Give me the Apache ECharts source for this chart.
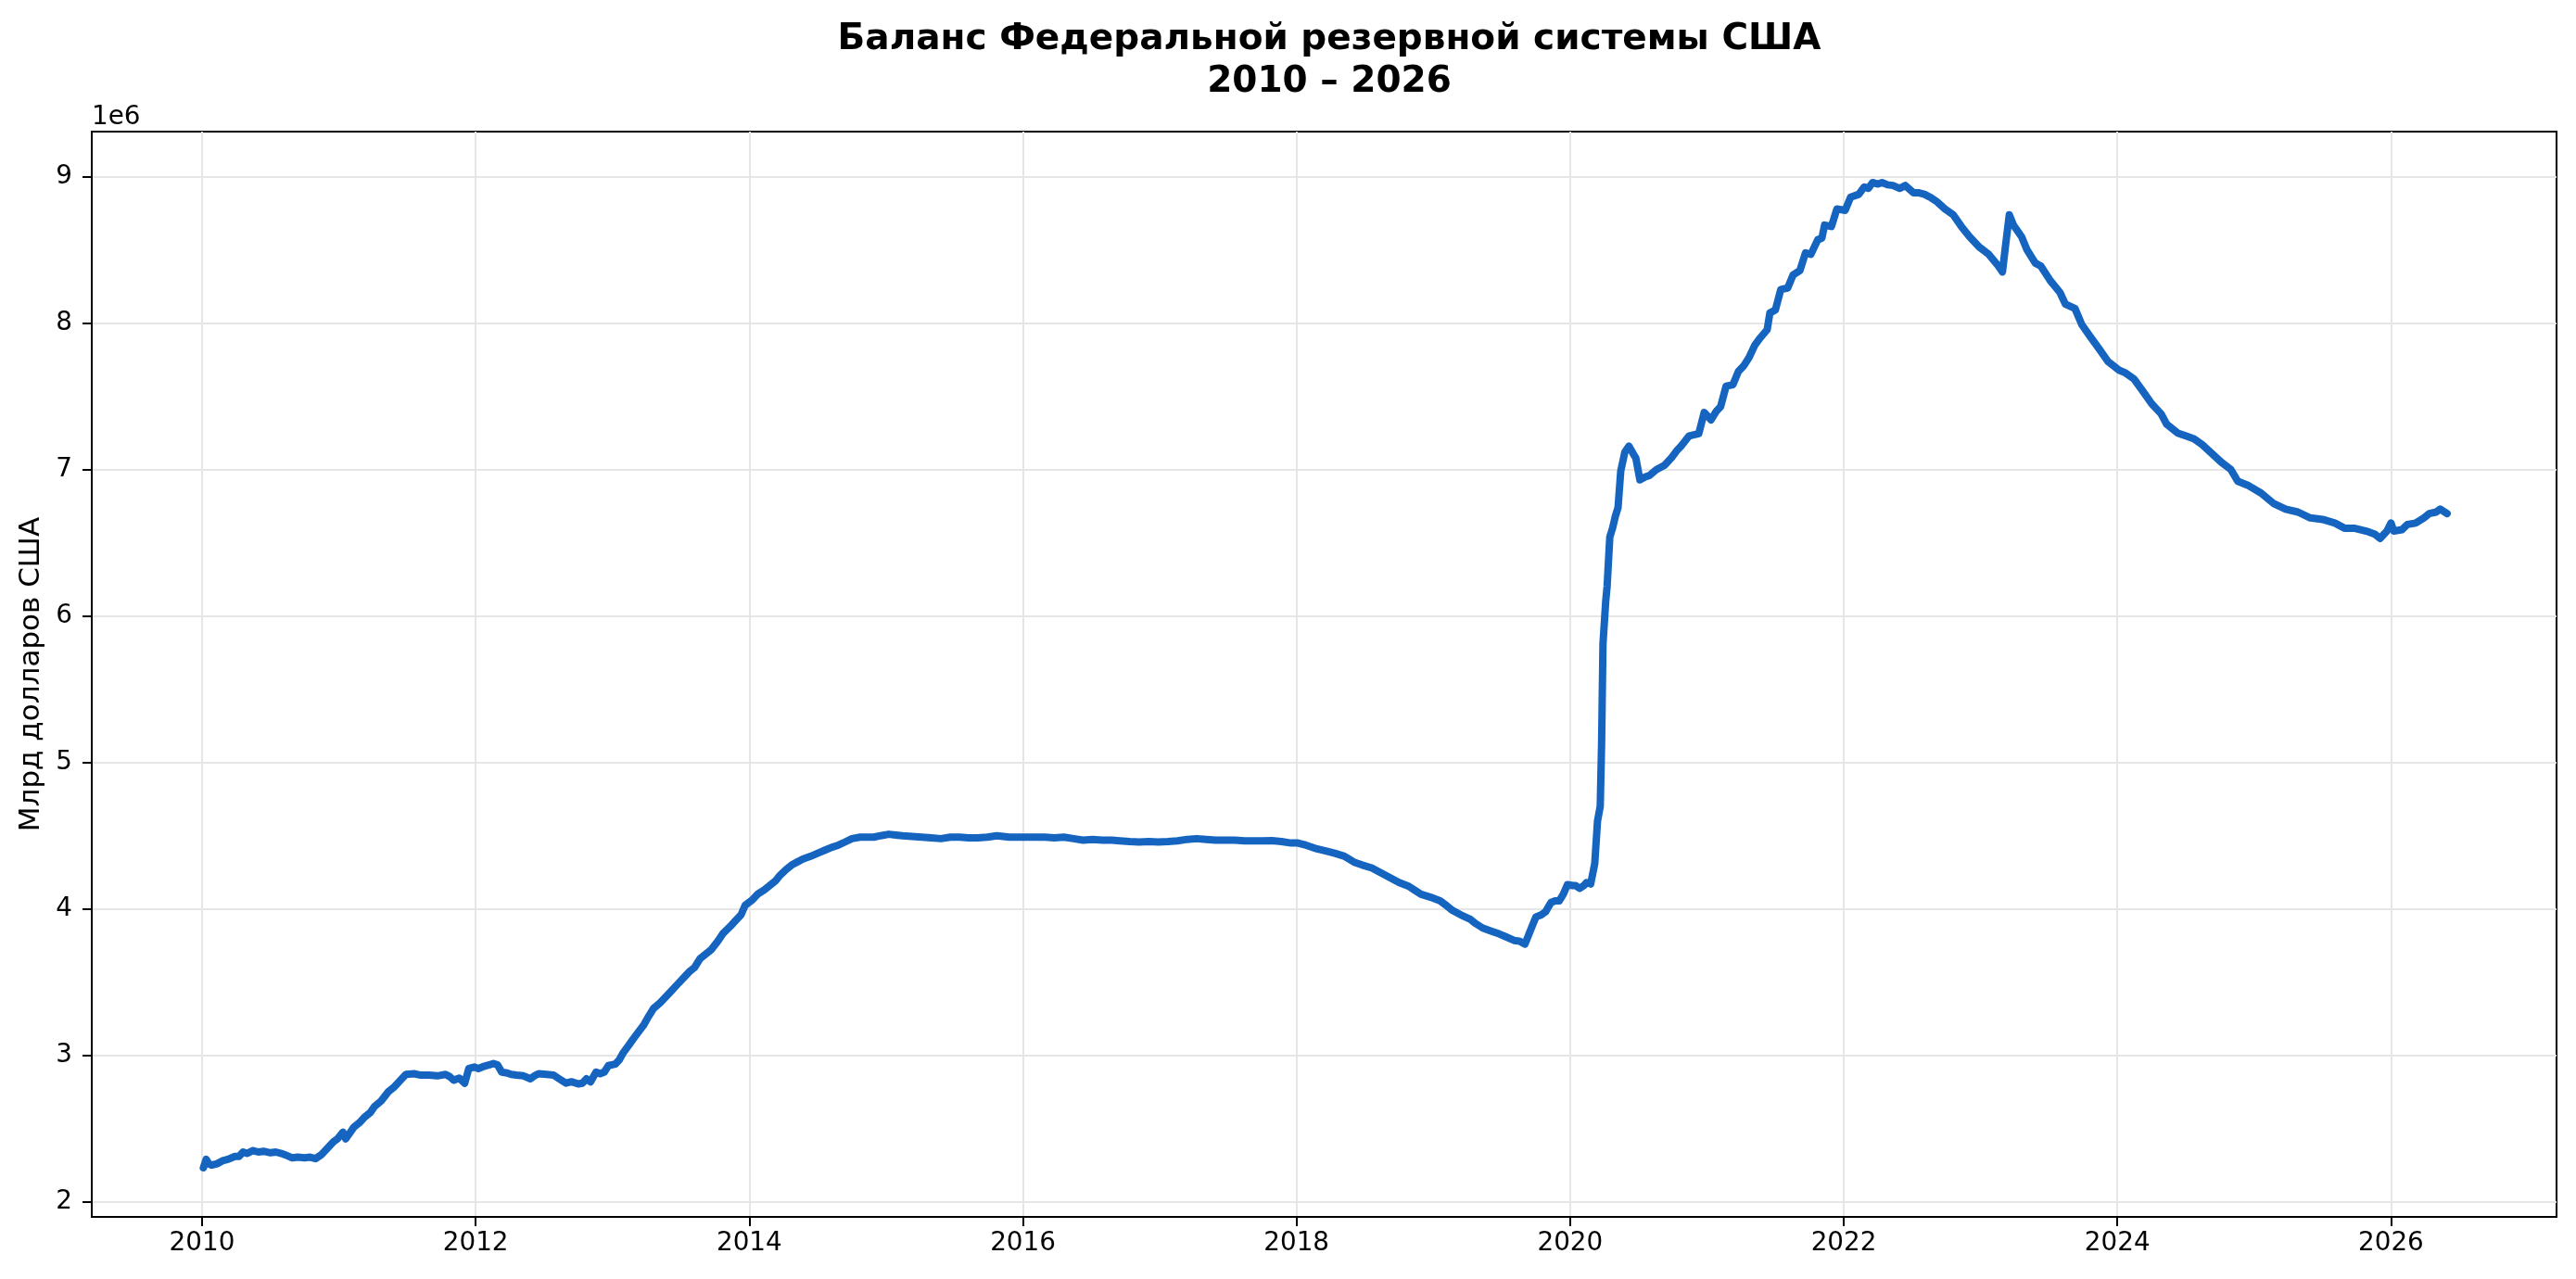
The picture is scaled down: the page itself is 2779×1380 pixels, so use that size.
<!DOCTYPE html>
<html>
<head>
<meta charset="utf-8">
<script src="https://cdn.jsdelivr.net/npm/echarts@6/dist/echarts.min.js"></script>
<style>
  html, body { margin: 0; padding: 0; background: #fff; }
  #chart { width: 2779px; height: 1380px; }
</style>
</head>
<body>
<div id="chart"></div>
<script>
// weekly Fed balance sheet (decimal year, value in 1e6 mln USD)
var dates = [
  2010.01, 2010.03, 2010.05, 2010.07, 2010.11, 2010.15, 2010.19, 2010.24, 2010.27, 2010.30,
  2010.33, 2010.37, 2010.41, 2010.45, 2010.50, 2010.54, 2010.58, 2010.61, 2010.66, 2010.70,
  2010.75, 2010.79, 2010.83, 2010.87, 2010.90, 2010.93, 2010.96, 2010.99, 2011.03, 2011.05,
  2011.08, 2011.11, 2011.15, 2011.19, 2011.23, 2011.26, 2011.31, 2011.36, 2011.40, 2011.43,
  2011.46, 2011.49, 2011.55, 2011.60, 2011.66, 2011.72, 2011.78, 2011.81, 2011.84, 2011.88,
  2011.92, 2011.95, 2011.99, 2012.02, 2012.06, 2012.10, 2012.13, 2012.16, 2012.19, 2012.23,
  2012.26, 2012.30, 2012.35, 2012.40, 2012.43, 2012.46, 2012.52, 2012.57, 2012.61, 2012.66,
  2012.70, 2012.75, 2012.78, 2012.81, 2012.84, 2012.88, 2012.91, 2012.94, 2012.97, 2013.02,
  2013.05, 2013.08, 2013.12, 2013.15, 2013.19, 2013.23, 2013.26, 2013.30, 2013.35, 2013.39,
  2013.43, 2013.47, 2013.52, 2013.56, 2013.60, 2013.64, 2013.68, 2013.72, 2013.77, 2013.81,
  2013.86, 2013.90, 2013.94, 2013.97, 2014.02, 2014.06, 2014.11, 2014.15, 2014.19, 2014.22,
  2014.27, 2014.31, 2014.35, 2014.39, 2014.45, 2014.50, 2014.55, 2014.60, 2014.65, 2014.70,
  2014.75, 2014.81, 2014.86, 2014.91, 2014.96, 2015.02, 2015.07, 2015.12, 2015.19, 2015.26,
  2015.33, 2015.40, 2015.47, 2015.54, 2015.60, 2015.67, 2015.74, 2015.81, 2015.90, 2016.00,
  2016.08, 2016.16, 2016.23, 2016.30, 2016.37, 2016.44, 2016.51, 2016.58, 2016.65, 2016.71,
  2016.78, 2016.85, 2016.92, 2016.99, 2017.06, 2017.13, 2017.20, 2017.27, 2017.34, 2017.41,
  2017.48, 2017.55, 2017.62, 2017.68, 2017.75, 2017.82, 2017.89, 2017.96, 2018.01, 2018.07,
  2018.15, 2018.22, 2018.28, 2018.35, 2018.42, 2018.48, 2018.55, 2018.62, 2018.69, 2018.75,
  2018.82, 2018.86, 2018.91, 2018.98, 2019.05, 2019.10, 2019.14, 2019.20, 2019.27, 2019.31,
  2019.36, 2019.42, 2019.48, 2019.53, 2019.59, 2019.63, 2019.67, 2019.70, 2019.73, 2019.75,
  2019.79, 2019.82, 2019.86, 2019.89, 2019.92, 2019.95, 2019.98, 2020.02, 2020.04, 2020.07,
  2020.10, 2020.12, 2020.15, 2020.18, 2020.20, 2020.22, 2020.23, 2020.24, 2020.26, 2020.27,
  2020.29, 2020.31, 2020.33, 2020.35, 2020.37, 2020.40, 2020.43, 2020.46, 2020.48, 2020.51,
  2020.55, 2020.58, 2020.63, 2020.69, 2020.74, 2020.78, 2020.81, 2020.87, 2020.94, 2020.98,
  2021.03, 2021.07, 2021.10, 2021.14, 2021.19, 2021.23, 2021.27, 2021.31, 2021.35, 2021.39,
  2021.44, 2021.46, 2021.50, 2021.54, 2021.59, 2021.63, 2021.68, 2021.72, 2021.76, 2021.81,
  2021.84, 2021.86, 2021.91, 2021.95, 2022.01, 2022.05, 2022.11, 2022.15, 2022.18, 2022.21,
  2022.25, 2022.28, 2022.32, 2022.36, 2022.41, 2022.45, 2022.51, 2022.55, 2022.59, 2022.64,
  2022.68, 2022.74, 2022.80, 2022.86, 2022.92, 2022.99, 2023.06, 2023.13, 2023.16, 2023.18,
  2023.21, 2023.24, 2023.30, 2023.34, 2023.40, 2023.44, 2023.51, 2023.58, 2023.62, 2023.69,
  2023.74, 2023.80, 2023.87, 2023.93, 2024.01, 2024.06, 2024.12, 2024.19, 2024.25, 2024.32,
  2024.36, 2024.44, 2024.50, 2024.56, 2024.62, 2024.69, 2024.76, 2024.83, 2024.88, 2024.96,
  2025.05, 2025.14, 2025.23, 2025.32, 2025.41, 2025.50, 2025.59, 2025.66, 2025.73, 2025.82,
  2025.88, 2025.92, 2025.97, 2026.00, 2026.02, 2026.08, 2026.12, 2026.18, 2026.24, 2026.28,
  2026.33, 2026.36, 2026.41
];

var balance = [
  2.232, 2.29, 2.26, 2.25, 2.26, 2.28, 2.29, 2.31, 2.31, 2.34,
  2.33, 2.35, 2.34, 2.345, 2.335, 2.34, 2.33, 2.32, 2.30, 2.305,
  2.30, 2.305, 2.295, 2.32, 2.35, 2.38, 2.41, 2.43, 2.475, 2.43,
  2.47, 2.51, 2.54, 2.58, 2.61, 2.65, 2.69, 2.75, 2.78, 2.81,
  2.84, 2.87, 2.875, 2.865, 2.865, 2.86, 2.87, 2.855, 2.83, 2.845,
  2.81, 2.91, 2.92, 2.91, 2.925, 2.935, 2.945, 2.935, 2.886, 2.88,
  2.87, 2.865, 2.86, 2.84, 2.86, 2.875, 2.87, 2.865, 2.84, 2.81,
  2.82, 2.805, 2.81, 2.84, 2.82, 2.886, 2.875, 2.886, 2.93, 2.94,
  2.97, 3.02, 3.07, 3.11, 3.16, 3.21, 3.26, 3.32, 3.36, 3.40,
  3.44, 3.48, 3.53, 3.57, 3.60, 3.66, 3.69, 3.72, 3.78, 3.835,
  3.88, 3.92, 3.96, 4.025, 4.06, 4.10, 4.13, 4.16, 4.19, 4.225,
  4.27, 4.30, 4.32, 4.34, 4.36, 4.38, 4.40, 4.42, 4.435, 4.457,
  4.48, 4.49, 4.49, 4.49, 4.50, 4.51, 4.505, 4.50, 4.495, 4.49,
  4.485, 4.48, 4.49, 4.49, 4.485, 4.485, 4.49, 4.50, 4.49, 4.49,
  4.49, 4.49, 4.485, 4.49, 4.48, 4.47, 4.475, 4.47, 4.47, 4.465,
  4.46, 4.457, 4.46, 4.457, 4.46, 4.465, 4.475, 4.48, 4.475, 4.47,
  4.47, 4.47, 4.465, 4.465, 4.465, 4.467, 4.46, 4.45, 4.45, 4.435,
  4.41, 4.395, 4.38, 4.36, 4.32, 4.30, 4.28, 4.245, 4.21, 4.18,
  4.155, 4.13, 4.10, 4.08, 4.055, 4.02, 3.99, 3.96, 3.93, 3.90,
  3.87, 3.85, 3.83, 3.81, 3.785, 3.78, 3.76, 3.83, 3.90, 3.945,
  3.96, 3.98, 4.044, 4.055, 4.055, 4.10, 4.166, 4.16, 4.16, 4.14,
  4.16, 4.18, 4.17, 4.31, 4.60, 4.70, 5.13, 5.81, 6.10, 6.20,
  6.54, 6.60, 6.68, 6.74, 6.99, 7.12, 7.16, 7.11, 7.08, 6.93,
  6.95, 6.96, 7.00, 7.03, 7.08, 7.13, 7.16, 7.23, 7.245, 7.39,
  7.34, 7.40, 7.43, 7.57, 7.58, 7.67, 7.71, 7.77, 7.85, 7.90,
  7.955, 8.07, 8.09, 8.23, 8.24, 8.33, 8.36, 8.48, 8.47, 8.57,
  8.58, 8.67, 8.66, 8.78, 8.77, 8.86, 8.88, 8.93, 8.92, 8.96,
  8.95, 8.96, 8.945, 8.94, 8.92, 8.94, 8.89, 8.89, 8.88, 8.855,
  8.83, 8.78, 8.74, 8.66, 8.59, 8.52, 8.47, 8.39, 8.35, 8.51,
  8.74, 8.67, 8.59, 8.50, 8.41, 8.39, 8.29, 8.21, 8.13, 8.10,
  7.99, 7.91, 7.82, 7.74, 7.68, 7.66, 7.62, 7.53, 7.45, 7.38,
  7.31, 7.25, 7.23, 7.21, 7.17, 7.11, 7.05, 7.00, 6.92, 6.89,
  6.84, 6.77, 6.73, 6.71, 6.67, 6.66, 6.635, 6.60, 6.60, 6.58,
  6.56, 6.53, 6.58, 6.635, 6.58, 6.59, 6.625, 6.635, 6.67, 6.70,
  6.71, 6.73, 6.70
];

var xTicks = [2010, 2012, 2014, 2016, 2018, 2020, 2022, 2024, 2026];
var yTicks = [2, 3, 4, 5, 6, 7, 8, 9];

var chartDom = document.getElementById('chart');
var myChart = echarts.init(chartDom, null, { renderer: 'canvas' });

var font = 'DejaVu Sans';
var seriesData = dates.map(function (d, i) { return [d, balance[i]]; });

var option = {
  animation: false,
  backgroundColor: '#fff',
  title: {
    text: 'Баланс Федеральной резервной системы США\n2010 – 2026',
    left: 1429,
    top: 15,
    textAlign: 'center',
    textStyle: {
      fontFamily: font,
      fontSize: 39,
      fontWeight: 'bold',
      lineHeight: 46,
      color: '#000'
    }
  },
  graphic: [
    {
      type: 'text',
      left: 99,
      top: 113,
      style: { text: '1e6', font: '27.8px "DejaVu Sans"', fill: '#000' }
    }
  ],
  grid: {
    left: 99,
    top: 142,
    width: 2659,
    height: 1171,
    show: true,
    borderColor: '#000',
    borderWidth: 2,
    backgroundColor: 'transparent'
  },
  xAxis: {
    type: 'value',
    min: 2009.194,
    max: 2027.21,
    axisLine: { show: true, onZero: false, lineStyle: { color: '#000', width: 2 } },
    axisTick: { show: true, customValues: xTicks, length: 10, lineStyle: { color: '#000', width: 2 } },
    axisLabel: {
      customValues: xTicks,
      formatter: function (v) { return String(Math.round(v)); },
      fontFamily: font,
      fontSize: 27.8,
      color: '#000',
      margin: 15
    },
    splitLine: { show: true, lineStyle: { color: '#e6e6e6', width: 2 } }
  },
  yAxis: {
    type: 'value',
    min: 1.897,
    max: 9.308,
    name: 'Млрд долларов США',
    nameLocation: 'middle',
    nameGap: 50,
    nameRotate: 90,
    nameTextStyle: { fontFamily: font, fontSize: 31, color: '#000' },
    axisLine: { show: true, onZero: false, lineStyle: { color: '#000', width: 2 } },
    axisTick: { show: true, customValues: yTicks, length: 10, lineStyle: { color: '#000', width: 2 } },
    axisLabel: {
      customValues: yTicks,
      formatter: function (v) { return String(Math.round(v)); },
      fontFamily: font,
      fontSize: 27.8,
      color: '#000',
      margin: 21
    },
    splitLine: { show: true, lineStyle: { color: '#e6e6e6', width: 2 } }
  },
  series: [
    {
      name: 'Баланс ФРС',
      type: 'line',
      data: seriesData,
      showSymbol: false,
      symbol: 'none',
      smooth: false,
      lineStyle: { color: '#1565C0', width: 8, join: 'round', cap: 'round' }
    }
  ]
};

option && myChart.setOption(option);
</script>
</body>
</html>
